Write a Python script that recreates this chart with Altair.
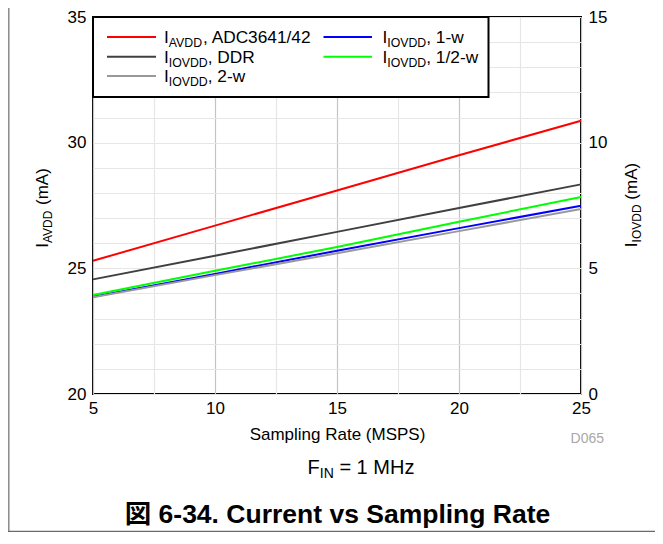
import altair as alt
import pandas as pd

FONT = "Liberation Sans, Arial, Helvetica, sans-serif"
CJK_FONT = "Liberation Sans, Arial, Noto Sans CJK JP, sans-serif"

# ---- data ----
rate = [5, 10, 15, 20, 25]
i_avdd = [25.30, 26.70, 28.10, 29.50, 30.87]          # left axis (mA)
iovdd_ddr = [4.56, 5.50, 6.45, 7.40, 8.34]            # right axis (mA)
iovdd_1w = [3.87, 4.78, 5.70, 6.60, 7.49]
iovdd_half = [3.94, 4.90, 5.85, 6.85, 7.84]
iovdd_2w = [3.85, 4.73, 5.60, 6.48, 7.36]

series_names = ["IIOVDD, DDR", "IIOVDD, 1-w", "IIOVDD, 1/2-w", "IIOVDD, 2-w"]
series_colors = ["#404040", "#0000ff", "#00ff00", "#999999"]

x_grid_values = [5, 7.5, 10, 12.5, 15, 17.5, 20, 22.5, 25]
left_grid_values = list(range(20, 36))
right_ticks = [0, 5, 10, 15]

left_df = pd.DataFrame({"rate": rate, "val": i_avdd})
right_df = pd.DataFrame({
    "rate": rate * 4,
    "val": iovdd_ddr + iovdd_1w + iovdd_half + iovdd_2w,
    "series": sum([[n] * len(rate) for n in series_names], []),
})

XS = alt.Scale(domain=[5, 25], nice=False, zero=False)
YL = alt.Scale(domain=[20, 35], nice=False, zero=False)
YR = alt.Scale(domain=[0, 15], nice=False, zero=False)

x_axis = alt.Axis(
    values=x_grid_values, grid=True,
    gridColor={"condition": {"test": "datum.value % 5 === 0", "value": "#c4c4c4"},
               "value": "#e6e6e6"},
    gridWidth=1.2,
    labelExpr="datum.value % 5 === 0 ? datum.label : ''",
    labelOverlap=False, labelFlush=False,
    ticks=False, domain=False, labelPadding=6,
    title="Sampling Rate (MSPS)", titlePadding=10,
    titleFontWeight="normal", titleFontSize=17, titleFont=FONT,
    labelFontSize=17, labelFont=FONT, labelColor="black", titleColor="black")

left_axis = alt.Axis(
    values=left_grid_values, grid=True, gridColor="#e6e6e6", gridWidth=1.2,
    labelExpr="datum.value % 5 === 0 ? datum.label : ''",
    labelOverlap=False, labelFlush=False,
    ticks=False, domain=False, labelPadding=7, title=None,
    labelFontSize=17, labelFont=FONT, labelColor="black")

right_axis = alt.Axis(
    orient="right", values=right_ticks, grid=False, ticks=False, domain=False,
    labelOverlap=False, labelFlush=False,
    labelPadding=7, title=None, labelFontSize=17, labelFont=FONT,
    labelColor="black")

DUMMY = pd.DataFrame({"a": [0]})

red = alt.Chart(left_df).mark_line(color="#ff0000", strokeWidth=2).encode(
    x=alt.X("rate:Q", scale=XS, axis=x_axis),
    y=alt.Y("val:Q", scale=YL, axis=left_axis),
)

right_layer = alt.Chart(right_df).mark_line(strokeWidth=2).encode(
    x=alt.X("rate:Q", scale=XS, axis=x_axis),
    y=alt.Y("val:Q", scale=YR, axis=right_axis),
    color=alt.Color("series:N", scale=alt.Scale(domain=series_names, range=series_colors),
                    legend=None),
    detail="series:N",
)

# ---- rich text helper (subscripts); leading spaces become explicit gaps ----
W = {' ': 278, ',': 278, '-': 333, '.': 278, '/': 278, '(': 333, ')': 333,
     '=': 584, 'A': 667, 'C': 722, 'D': 722, 'F': 611, 'I': 278, 'M': 833, 'N': 722,
     'O': 778, 'R': 722, 'S': 667, 'V': 667, 'H': 722, 'z': 500, 'w': 722, 'm': 833}


def tw(s, fs):
    return sum(W.get(c, 556) for c in s) * fs / 1000.0


def rich(parts, x0, y0, angle=0, color="black", align="left", sub_off=4):
    out = []
    total = sum(tw(t, fs) for t, fs, sub in parts)
    pos = -total / 2 if align == "center" else 0
    for t, fs, sub in parts:
        lead = len(t) - len(t.lstrip(" "))
        pos += lead * 278 * fs / 1000.0
        body = t.lstrip(" ")
        if angle == 0:
            x, y = x0 + pos, y0 + (sub_off if sub else 0)
        else:
            x, y = x0 + (sub_off if sub else 0), y0 - pos
        out.append(alt.Chart(DUMMY).mark_text(
            text=body, fontSize=fs, font=FONT, align="left", baseline="alphabetic",
            angle=angle, color=color).encode(x=alt.value(x), y=alt.value(y)))
        pos += tw(body, fs)
    return out


# ---- legend ----
legend = [alt.Chart(DUMMY).mark_rect(fill="white", stroke="black", strokeWidth=2).encode(
    x=alt.value(0), x2=alt.value(395.5), y=alt.value(0), y2=alt.value(80))]

LF, SF = 17.3, 12.3
leg_items = [
    ("#ff0000", 14, 63, 20, 71, [("I", LF, False), ("AVDD", SF, True), (", ADC3641/42", LF, False)]),
    ("#404040", 14, 63, 39.7, 71, [("I", LF, False), ("IOVDD", SF, True), (", DDR", LF, False)]),
    ("#999999", 14, 63, 59, 71, [("I", LF, False), ("IOVDD", SF, True), (", 2-w", LF, False)]),
    ("#0000ff", 230.5, 279, 20, 289.5, [("I", LF, False), ("IOVDD", SF, True), (", 1-w", LF, False)]),
    ("#00ff00", 230.5, 279, 39.7, 289.5, [("I", LF, False), ("IOVDD", SF, True), (", 1/2-w", LF, False)]),
]
for col, lx1, lx2, ly, tx, parts in leg_items:
    legend.append(alt.Chart(DUMMY).mark_rule(color=col, strokeWidth=2).encode(
        x=alt.value(lx1), x2=alt.value(lx2), y=alt.value(ly)))
    legend += rich(parts, tx, ly + 6)

# ---- axis titles with subscripts ----
texts = []
texts += rich([("I", 17, False), ("AVDD", 12, True), (" (mA)", 17, False)],
              -45, 191, angle=270, align="center")
texts += rich([("I", 17, False), ("IOVDD", 12, True), (" (mA)", 17, False)],
              544, 188, angle=270, align="center")

# D065 tag
texts.append(alt.Chart(DUMMY).mark_text(
    text="D065", fontSize=14, font=FONT, align="right", baseline="alphabetic",
    color="#a8a8a8").encode(x=alt.value(511), y=alt.value(426)))

# condition note
texts += rich([("F", 20, False), ("IN", 14, True), (" = 1 MHz", 20, False)],
              268, 457, align="center", sub_off=4)

# figure caption
texts.append(alt.Chart(DUMMY).mark_text(
    text="図 6-34. Current vs Sampling Rate", fontSize=26.5, font=CJK_FONT,
    fontWeight="bold", align="center", baseline="alphabetic", color="black").encode(
    x=alt.value(244.5), y=alt.value(506)))

# outer frame (left and bottom edges)
frame = [
    alt.Chart(DUMMY).mark_rule(color="#8a8a8a", strokeWidth=1.5).encode(
        x=alt.value(-84.2), y=alt.value(-9), y2=alt.value(515)),
    alt.Chart(DUMMY).mark_rule(color="#6a6a6a", strokeWidth=1.5).encode(
        x=alt.value(-85), x2=alt.value(562), y=alt.value(514.5)),
]

chart = alt.layer(red, right_layer, *legend, *texts, *frame).resolve_scale(
    y="independent"
).properties(
    width=488, height=377,
    autosize=alt.AutoSizeParams(type="none"),
    padding={"left": 85, "top": 9, "right": 74, "bottom": 138},
).configure_view(stroke="black", strokeWidth=2)

chart.save("out.html", embed_options={"renderer": "svg", "actions": False})
